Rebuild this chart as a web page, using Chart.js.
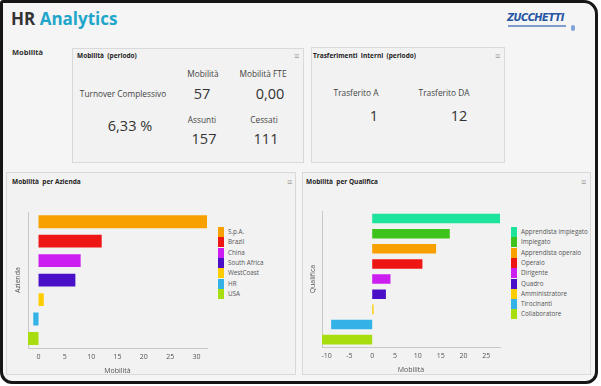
<!DOCTYPE html>
<html>
<head>
<meta charset="utf-8">
<title>HR Analytics</title>
<script src="https://cdn.jsdelivr.net/npm/chart.js@4.4.1/dist/chart.umd.min.js"></script>
<style>
  html, body { margin: 0; padding: 0; background: #fff; }
  body { width: 601px; height: 386px; position: relative; overflow: hidden;
         font-family: "Open Sans", sans-serif; color: #333; }
  #frame { position: absolute; left: 0; top: 0; width: 592px; height: 378px;
           border: 3px solid #161616; border-radius: 3px 14px 12px 12px; background: #f5f5f5; }
  .abs   { position: absolute; white-space: nowrap; }
  .c     { transform: translate(-50%, -50%); }
  .panel { position: absolute; box-sizing: border-box; border: 1px solid #d9d9d9; background: #f2f2f2; }
  .head  { font-weight: 700; font-size: 6.5px; color: #222; }
  .menu  { font-size: 9px; color: #a0a0a0; line-height: 1; }
  .lbl   { font-size: 8.3px; color: #444; }
  .num   { font-size: 14.5px; color: #333; }
  .leg   { position: absolute; }
  .leg div { position: absolute; left: 0; height: 10px; font-size: 6.3px; color: #555; line-height: 10px; white-space: nowrap; }
  .leg span { position: absolute; left: 0; top: 0; width: 6px; height: 10px; }
  .leg i { position: absolute; left: 10px; top: 0; font-style: normal; }
  canvas { position: absolute; }
</style>
</head>
<body>
<div id="frame"></div>

<!-- ── Header ───────────────────────────────── -->
<div class="abs" style="left:11px;top:7px;font-size:17px;font-weight:700;line-height:24px">
  <span style="color:#333">HR</span> <span style="color:#1fa6ca">Analytics</span>
</div>
<div class="abs" style="left:507px;top:11px;font-family:'DejaVu Sans Condensed','DejaVu Sans',sans-serif;font-size:11px;font-weight:700;font-style:italic;color:#2656a3;letter-spacing:-0.6px;line-height:13px">ZUCCHETTI</div>
<div class="abs" style="left:508px;top:25px;width:58px;height:2px;background:#7f9ccc"></div>
<div class="abs" style="left:571px;top:25px;width:4px;height:6px;background:#7fa3d6;border-radius:2px"></div>

<div class="abs" style="left:12px;top:47px;font-size:7.5px;font-weight:700;color:#333">Mobilità</div>

<!-- ── Mobilità (periodo) ───────────────────── -->
<div class="panel" style="left:72px;top:48px;width:232px;height:115px"></div>
<div class="abs head" style="left:77px;top:51px">Mobilità&nbsp;&nbsp;(periodo)</div>
<div class="abs menu" style="left:294px;top:51px">≡</div>
<div class="abs c lbl" style="left:203px;top:73px">Mobilità</div>
<div class="abs c lbl" style="left:263px;top:73px">Mobilità FTE</div>
<div class="abs c lbl" style="left:123px;top:93px">Turnover Complessivo</div>
<div class="abs c num" style="left:202px;top:93px">57</div>
<div class="abs c num" style="left:270px;top:93px">0,00</div>
<div class="abs c num" style="left:130px;top:125px">6,33 %</div>
<div class="abs c lbl" style="left:202px;top:119px">Assunti</div>
<div class="abs c lbl" style="left:264px;top:119px">Cessati</div>
<div class="abs c num" style="left:204px;top:138px">157</div>
<div class="abs c num" style="left:266px;top:138px">111</div>

<!-- ── Trasferimenti Interni (periodo) ──────── -->
<div class="panel" style="left:311px;top:47px;width:194px;height:116px"></div>
<div class="abs head" style="left:313px;top:51px">Trasferimenti&nbsp;&nbsp;Interni&nbsp;&nbsp;(periodo)</div>
<div class="abs menu" style="left:495px;top:51px">≡</div>
<div class="abs c lbl" style="left:356px;top:92px">Trasferito A</div>
<div class="abs c lbl" style="left:444px;top:92px">Trasferito DA</div>
<div class="abs c num" style="left:374px;top:115px">1</div>
<div class="abs c num" style="left:459px;top:115px">12</div>

<!-- ── Charts ───────────────────────────────── -->
<div class="panel" style="left:6px;top:172px;width:290px;height:203px"></div>
<div class="abs head" style="left:12px;top:177px">Mobilità&nbsp;&nbsp;per Azienda</div>
<div class="abs menu" style="left:287px;top:177px">≡</div>
<canvas id="chartAzienda" width="205" height="183" style="left:8px;top:195px"></canvas>
<div class="leg" id="legAzienda" style="left:218px;top:227px"></div>

<div class="panel" style="left:302px;top:172px;width:289px;height:203px"></div>
<div class="abs head" style="left:306px;top:177px">Mobilità&nbsp;&nbsp;per Qualifica</div>
<div class="abs menu" style="left:581px;top:177px">≡</div>
<canvas id="chartQualifica" width="200" height="183" style="left:306px;top:195px"></canvas>
<div class="leg" id="legQualifica" style="left:511px;top:227px"></div>

<script>
// ── Data ─────────────────────────────────────────
const aziende        = ['S.p.A.', 'Brazil', 'China', 'South Africa', 'WestCoast', 'HR', 'USA'];
const mobAzienda     = [32, 12, 8, 7, 1, -1, -2];
const coloriAzienda  = ['#f7a000', '#ee1515', '#cc1ef0', '#4a10c8', '#ffcc00', '#33b2e8', '#a8de10'];
const ticksAzienda   = [0, 5, 10, 15, 20, 25, 30];

const qualifiche     = ['Apprendista impiegato', 'Impiegato', 'Apprendista operaio', 'Operaio', 'Dirigente',
                        'Quadro', 'Amministratore', 'Tirocinanti', 'Collaboratore'];
const mobQualifica   = [28, 17, 14, 11, 4, 3, 0.3, -9, -11];
const coloriQualifica = ['#1ee39a', '#3ec21c', '#f7a000', '#ee1515', '#cc1ef0', '#4a10c8', '#ffcc00', '#33b2e8', '#a8de10'];
const ticksQualifica = [-10, -5, 0, 5, 10, 15, 20, 25];

Chart.defaults.font.family = "'Open Sans', sans-serif";

// ── Bar chart ────────────────────────────────────
function makeBar(id, labels, values, colors, tickVals, min, max, yTitle, pad, yPad, barPct) {
  return new Chart(document.getElementById(id), {
    type: 'bar',
    data: {
      labels: labels,
      datasets: [{ data: values, backgroundColor: colors, barPercentage: barPct, categoryPercentage: 1 }],
    },
    options: {
      indexAxis:  'y',
      responsive: false,
      animation:  false,
      layout:     { padding: pad },
      plugins:    { legend: { display: false }, tooltip: { enabled: false } },
      scales: {
        x: {
          min: min, max: max,
          grid:   { display: false, drawTicks: false },
          border: { color: '#c8c8c8' },
          afterBuildTicks: s => { s.ticks = tickVals.map(v => ({ value: v })); },
          ticks:  { color: '#555', font: { size: 7 }, padding: 5, autoSkip: false, maxRotation: 0 },
          title:  { display: true, text: 'Mobilità', color: '#555', font: { size: 7 }, padding: { top: 0, bottom: 3 } },
        },
        y: {
          grid:   { display: false, drawTicks: false },
          border: { color: '#c8c8c8' },
          ticks:  { display: false },
          title:  { display: true, text: yTitle, color: '#555', font: { size: 7 }, padding: yPad },
        },
      },
    },
  });
}

function makeLegend(id, labels, colors) {
  document.getElementById(id).innerHTML = labels.map((l, i) =>
    `<div style="top:${(i * 10.3).toFixed(1)}px"><span style="background:${colors[i]}"></span><i>${l}</i></div>`
  ).join('');
}

makeBar('chartAzienda', aziende, mobAzienda, coloriAzienda, ticksAzienda, -2, 32, 'Azienda',
        { left: 4, right: 6, top: 17, bottom: 0 }, { top: 2, bottom: 5.6 }, 0.66);
makeBar('chartQualifica', qualifiche, mobQualifica, coloriQualifica, ticksQualifica, -11, 28, 'Qualifica',
        { left: 1, right: 6, top: 16, bottom: 1 }, { top: 1.8, bottom: 4.8 }, 0.63);

makeLegend('legAzienda', aziende, coloriAzienda);
makeLegend('legQualifica', qualifiche, coloriQualifica);
</script>
</body>
</html>
